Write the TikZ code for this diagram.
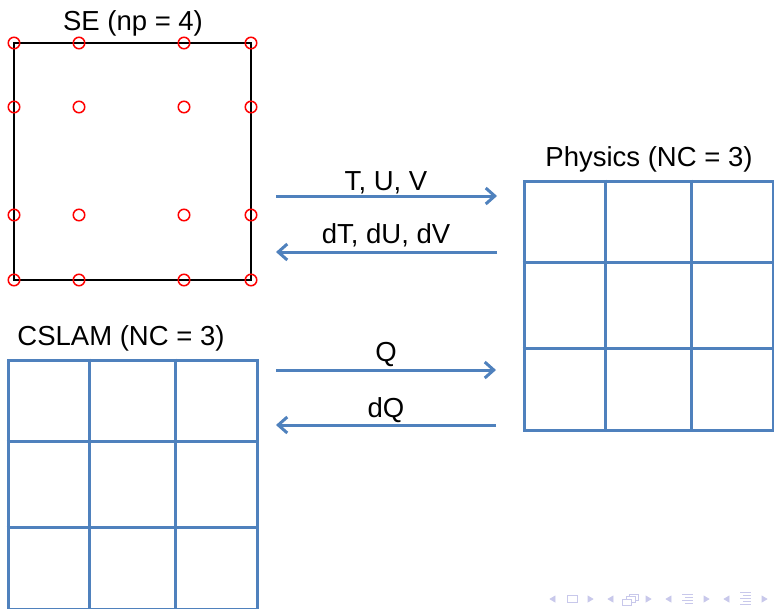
\documentclass[tikz,border=0pt]{standalone}
\usepackage{fontspec}
\setmainfont{Liberation Sans}
\usetikzlibrary{arrows.meta}
\definecolor{gblue}{RGB}{79,129,189}
\definecolor{navc}{RGB}{200,200,235}
\begin{document}
\begin{tikzpicture}[x=1pt,y=-1pt,
  lbl/.style={font=\fontsize{27.5}{32}\selectfont, inner sep=0pt, anchor=base},
  gridbox/.style={draw=gblue, line width=3pt, minimum width=249pt, minimum height=249pt, inner sep=0pt},
  gline/.style={draw=gblue, line width=3pt},
  flow/.style={draw=gblue, line width=3pt, -{Straight Barb[length=9pt,width=16pt,line width=3pt]}},
  gll/.style={draw=red, line width=1.5pt, circle, minimum size=11.5pt, inner sep=0pt},
  nav/.style={draw=navc, fill=navc, line width=0.6pt}]
\useasboundingbox (0,0) rectangle (774,608);
\fill[white] (0,0) rectangle (774,608);

% SE element
\node (se) [draw=black, line width=2.2pt, minimum width=237pt, minimum height=237pt, inner sep=0pt] at (132.5,161.5) {};
\node (setitle) [lbl] at (133,30) {SE (np = 4)};
\foreach \i/\x in {1/14,2/79,3/184,4/251}
  \foreach \j/\y in {1/43,2/107,3/215,4/280}
    \node (g\i\j) [gll] at (\x,\y) {};

% Physics grid
\node (phys) [gridbox] at (648.5,305.5) {};
\node (phystitle) [lbl] at (649,166) {Physics (NC = 3)};
\draw[gline] ([xshift=83pt]phys.north west) -- ([xshift=83pt]phys.south west);
\draw[gline] ([xshift=-83pt]phys.north east) -- ([xshift=-83pt]phys.south east);
\draw[gline] ([yshift=-83pt]phys.north west) -- ([yshift=-83pt]phys.north east);
\draw[gline] ([yshift=83pt]phys.south west) -- ([yshift=83pt]phys.south east);

% CSLAM grid
\node (cslam) [gridbox] at (132.5,484.5) {};
\node (cslamtitle) [lbl] at (121,345) {CSLAM (NC = 3)};
\draw[gline] ([xshift=83pt]cslam.north west) -- ([xshift=83pt]cslam.south west);
\draw[gline] ([xshift=-83pt]cslam.north east) -- ([xshift=-83pt]cslam.south east);
\draw[gline] ([yshift=-83pt]cslam.north west) -- ([yshift=-83pt]cslam.north east);
\draw[gline] ([yshift=83pt]cslam.south west) -- ([yshift=83pt]cslam.south east);

% arrows
\coordinate (a1l) at (276,196); \coordinate (a1r) at (497,196);
\coordinate (a2l) at (276,252); \coordinate (a2r) at (497,252);
\coordinate (a3l) at (276,370); \coordinate (a3r) at (496,370);
\coordinate (a4l) at (276,425); \coordinate (a4r) at (496,425);
\draw[flow] (a1l) -- (a1r);
\draw[flow] (a2r) -- (a2l);
\draw[flow] (a3l) -- (a3r);
\draw[flow] (a4r) -- (a4l);
\node (l1) [lbl] at (386,190) {T, U, V};
\node (l2) [lbl] at (386,243) {dT, dU, dV};
\node (l3) [lbl] at (386,361) {Q};
\node (l4) [lbl] at (386,417) {dQ};

% navigation symbols
\begin{scope}[navc]
\fill[nav] (550,599) -- (555,596) -- (555,602) -- cycle;
\draw[navc, line width=0.8pt] (567,595.5) rectangle (577,602.5);
\fill[nav] (593,599) -- (588,596) -- (588,602) -- cycle;
\fill[nav] (608,599) -- (613,596) -- (613,602) -- cycle;
\draw[navc, line width=0.8pt, fill=white] (629,594) rectangle (638,600);
\draw[navc, line width=0.8pt, fill=white] (626,596.5) rectangle (635,602.5);
\draw[navc, line width=0.8pt, fill=white] (622,599) rectangle (631,605);
\fill[nav] (651,599) -- (646,596) -- (646,602) -- cycle;
\fill[nav] (666,599) -- (671,596) -- (671,602) -- cycle;
\draw[navc, line width=1pt] (682,594) -- (693,594) (685,597) -- (693,597) (682,600) -- (693,600) (685,603) -- (693,603);
\fill[nav] (709,599) -- (704,596) -- (704,602) -- cycle;
\fill[nav] (724,599) -- (729,596) -- (729,602) -- cycle;
\draw[navc, line width=1pt] (740,592) -- (751,592) (743,595) -- (751,595) (740,598) -- (751,598) (743,601) -- (751,601) (740,604) -- (751,604);
\fill[nav] (767,599) -- (762,596) -- (762,602) -- cycle;
\end{scope}
\end{tikzpicture}
\end{document}
